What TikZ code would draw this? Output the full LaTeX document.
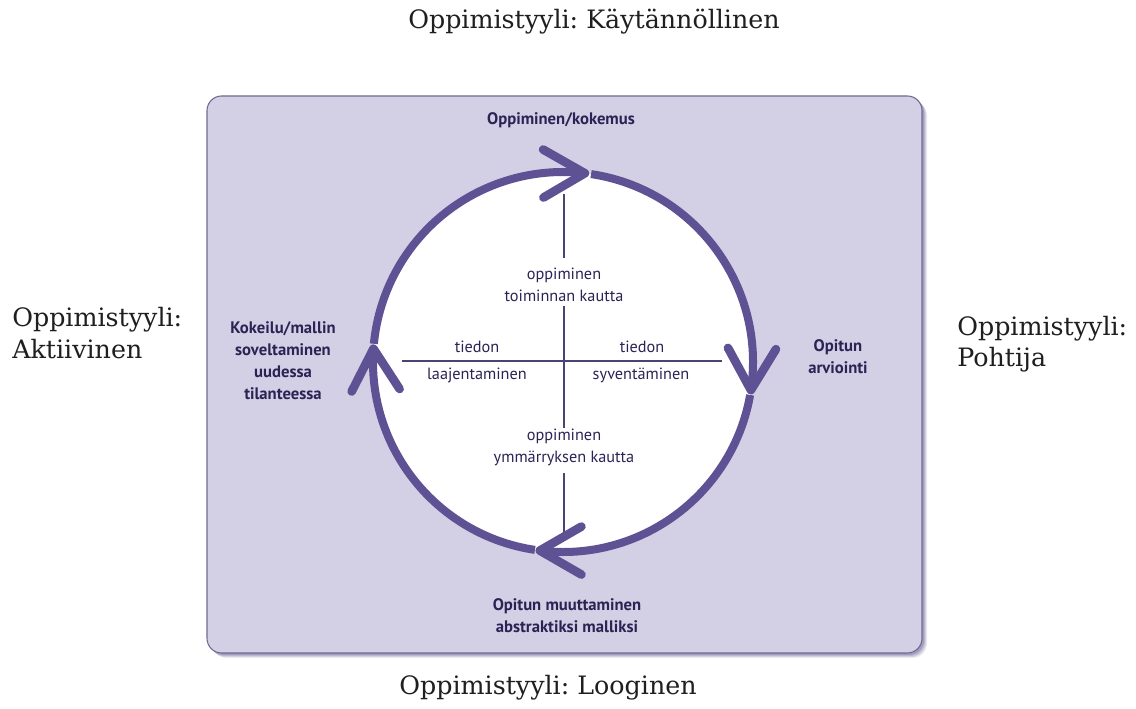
\documentclass[tikz,border=0pt]{standalone}
\usepackage{fontspec}
\usetikzlibrary{calc}
\newfontfamily\ptsans{PT Sans}
\newfontfamily\outerserif{DejaVu Serif}
\frenchspacing
\definecolor{boxfill}{HTML}{D3CFE4}
\definecolor{boxedge}{HTML}{6E6A90}
\definecolor{shadowcol}{HTML}{5A4F8C}
\definecolor{arccol}{HTML}{5E5194}
\definecolor{lblcol}{HTML}{2A2455}
\definecolor{axiscol}{HTML}{4A4470}
\tikzset{
  arcline/.style={draw=arccol, line width=6pt},
  headline/.style={draw=arccol, line width=6.5pt, line cap=round, line join=round},
  axisline/.style={draw=axiscol, line width=1.1pt},
  boldlbl/.style={text=lblcol, font=\ptsans\bfseries\fontsize{12.5}{16.5}\selectfont, align=center, inner sep=0pt},
  innerlbl/.style={text=lblcol, font=\ptsans\fontsize{12.2}{16.5}\selectfont, align=center, inner sep=0pt},
  outerlbl/.style={text=black!88, font=\outerserif\fontsize{19}{23.5}\selectfont, inner sep=0pt},
}
\begin{document}
\begin{tikzpicture}[x=0.75pt,y=0.75pt]
\fill[white] (0,0) rectangle (1136,709);
\useasboundingbox (0,0) rectangle (1136,709);
% shadow
\foreach \s/\o in {5/0.12,4/0.15,3/0.2,2/0.25}{
  \fill[shadowcol, opacity=\o, rounded corners=11pt] (207+\s,56-\s) rectangle (922+\s,613-\s);
}
% box
\draw[boxedge, fill=boxfill, line width=0.8pt, rounded corners=11pt] (207,56) rectangle (922,613);
% circle interior
\coordinate (c) at (563,347);
\fill[white] (c) circle[radius=190];
% axes
\draw[axisline] (564,515) -- (564,451);
\draw[axisline] (564,403) -- (564,281);
\draw[axisline] (564,236) -- (564,177);
\draw[axisline] (402,348) -- (722,348);
% arcs
\draw[arcline] ($(c)+(81.5:190)$) arc[start angle=81.5, end angle=-8.5, radius=190];
\draw[arcline] ($(c)+(-10:190)$) arc[start angle=-10, end angle=-97, radius=190];
\draw[arcline] ($(c)+(-98.5:190)$) arc[start angle=-98.5, end angle=-184, radius=190];
\draw[arcline] ($(c)+(-185.5:190)$) arc[start angle=-185.5, end angle=-276.6, radius=190];
% arrow heads
\foreach \a in {83.4,-8.5,-97,-184}{
  \pgfmathsetmacro\b{\a+97}
  \coordinate (tip) at ($(c)+(\a:190)$);
  \draw[headline] ($(tip)+(\b+30:48)$) -- (tip) -- ($(tip)+(\b-30:48)$);
}
% stage labels
\node[boldlbl] (top) at (561,589) {Oppiminen/kokemus};
\node[boldlbl] (right) at (838,352) {Opitun\\arviointi};
\node[boldlbl] (left) at (283,348) {Kokeilu/mallin\\soveltaminen\\uudessa\\tilanteessa};
\node[boldlbl] (bottom) at (567,93) {Opitun muuttaminen\\abstraktiksi malliksi};
% inner labels
\node[innerlbl] (act) at (564,424) {oppiminen\\toiminnan kautta};
\node[innerlbl] (und) at (564,262) {oppiminen\\ymmärryksen kautta};
\node[innerlbl] (lt) at (477,362) {tiedon};
\node[innerlbl] (lb) at (477,334) {laajentaminen};
\node[innerlbl] (rt) at (642,362) {tiedon};
\node[innerlbl] (rb) at (641,334) {syventäminen};
% outer labels
\node[outerlbl] (styletop) at (594,687) {Oppimistyyli: Käytännöllinen};
\node[outerlbl, anchor=west, align=left] (styleleft) at (12,376) {Oppimistyyli:\\Aktiivinen};
\node[outerlbl, anchor=west, align=left] (styleright) at (957,365) {Oppimistyyli:\\Pohtija};
\node[outerlbl] (stylebottom) at (548,21) {Oppimistyyli: Looginen};
\end{tikzpicture}
\end{document}
